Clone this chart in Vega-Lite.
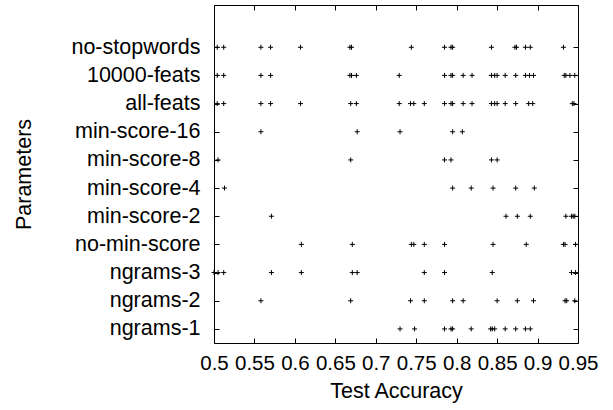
{
  "$schema": "https://vega.github.io/schema/vega-lite/v6.json",
  "width": 364,
  "height": 338,
  "autosize": {"type": "none"},
  "padding": {"left": 214, "top": 5, "right": 35, "bottom": 67},
  "background": "white",
  "config": {
    "font": "Liberation Sans",
    "view": {"stroke": null},
    "axis": {
      "domainColor": "black",
      "domainWidth": 1,
      "tickColor": "black",
      "tickSize": -5,
      "tickWidth": 1,
      "grid": false,
      "labelFont": "Liberation Sans",
      "labelFontSize": 21.5,
      "labelColor": "black",
      "titleFont": "Liberation Sans",
      "titleFontSize": 21.5,
      "titleFontWeight": "normal",
      "titleColor": "black",
      "labelOverlap": false,
      "labelFlush": false
    }
  },
  "data": {
    "values": [
      {"param": "no-stopwords", "acc": 0.504}, {"param": "no-stopwords", "acc": 0.512},
      {"param": "no-stopwords", "acc": 0.558}, {"param": "no-stopwords", "acc": 0.570},
      {"param": "no-stopwords", "acc": 0.607}, {"param": "no-stopwords", "acc": 0.668},
      {"param": "no-stopwords", "acc": 0.670}, {"param": "no-stopwords", "acc": 0.744},
      {"param": "no-stopwords", "acc": 0.785}, {"param": "no-stopwords", "acc": 0.793},
      {"param": "no-stopwords", "acc": 0.795}, {"param": "no-stopwords", "acc": 0.843},
      {"param": "no-stopwords", "acc": 0.872}, {"param": "no-stopwords", "acc": 0.874},
      {"param": "no-stopwords", "acc": 0.885}, {"param": "no-stopwords", "acc": 0.891},
      {"param": "no-stopwords", "acc": 0.932},

      {"param": "10000-feats", "acc": 0.504}, {"param": "10000-feats", "acc": 0.512},
      {"param": "10000-feats", "acc": 0.558}, {"param": "10000-feats", "acc": 0.570},
      {"param": "10000-feats", "acc": 0.668}, {"param": "10000-feats", "acc": 0.670},
      {"param": "10000-feats", "acc": 0.676}, {"param": "10000-feats", "acc": 0.729},
      {"param": "10000-feats", "acc": 0.785}, {"param": "10000-feats", "acc": 0.793},
      {"param": "10000-feats", "acc": 0.795}, {"param": "10000-feats", "acc": 0.808},
      {"param": "10000-feats", "acc": 0.819}, {"param": "10000-feats", "acc": 0.843},
      {"param": "10000-feats", "acc": 0.847}, {"param": "10000-feats", "acc": 0.850},
      {"param": "10000-feats", "acc": 0.860}, {"param": "10000-feats", "acc": 0.873},
      {"param": "10000-feats", "acc": 0.885}, {"param": "10000-feats", "acc": 0.890},
      {"param": "10000-feats", "acc": 0.895}, {"param": "10000-feats", "acc": 0.933},
      {"param": "10000-feats", "acc": 0.935}, {"param": "10000-feats", "acc": 0.940},
      {"param": "10000-feats", "acc": 0.946},

      {"param": "all-feats", "acc": 0.504}, {"param": "all-feats", "acc": 0.512},
      {"param": "all-feats", "acc": 0.558}, {"param": "all-feats", "acc": 0.570},
      {"param": "all-feats", "acc": 0.607}, {"param": "all-feats", "acc": 0.669},
      {"param": "all-feats", "acc": 0.676}, {"param": "all-feats", "acc": 0.729},
      {"param": "all-feats", "acc": 0.743}, {"param": "all-feats", "acc": 0.747},
      {"param": "all-feats", "acc": 0.760}, {"param": "all-feats", "acc": 0.785},
      {"param": "all-feats", "acc": 0.793}, {"param": "all-feats", "acc": 0.795},
      {"param": "all-feats", "acc": 0.808}, {"param": "all-feats", "acc": 0.819},
      {"param": "all-feats", "acc": 0.843}, {"param": "all-feats", "acc": 0.847},
      {"param": "all-feats", "acc": 0.850}, {"param": "all-feats", "acc": 0.860},
      {"param": "all-feats", "acc": 0.873}, {"param": "all-feats", "acc": 0.889},
      {"param": "all-feats", "acc": 0.894}, {"param": "all-feats", "acc": 0.943},
      {"param": "all-feats", "acc": 0.945},

      {"param": "min-score-16", "acc": 0.558}, {"param": "min-score-16", "acc": 0.677},
      {"param": "min-score-16", "acc": 0.730}, {"param": "min-score-16", "acc": 0.795},
      {"param": "min-score-16", "acc": 0.807},

      {"param": "min-score-8", "acc": 0.505}, {"param": "min-score-8", "acc": 0.669},
      {"param": "min-score-8", "acc": 0.785}, {"param": "min-score-8", "acc": 0.793},
      {"param": "min-score-8", "acc": 0.843}, {"param": "min-score-8", "acc": 0.850},

      {"param": "min-score-4", "acc": 0.513}, {"param": "min-score-4", "acc": 0.795},
      {"param": "min-score-4", "acc": 0.818}, {"param": "min-score-4", "acc": 0.845},
      {"param": "min-score-4", "acc": 0.873}, {"param": "min-score-4", "acc": 0.896},

      {"param": "min-score-2", "acc": 0.571}, {"param": "min-score-2", "acc": 0.861},
      {"param": "min-score-2", "acc": 0.875}, {"param": "min-score-2", "acc": 0.891},
      {"param": "min-score-2", "acc": 0.935}, {"param": "min-score-2", "acc": 0.942},
      {"param": "min-score-2", "acc": 0.944}, {"param": "min-score-2", "acc": 0.946},

      {"param": "no-min-score", "acc": 0.608}, {"param": "no-min-score", "acc": 0.671},
      {"param": "no-min-score", "acc": 0.744}, {"param": "no-min-score", "acc": 0.747},
      {"param": "no-min-score", "acc": 0.760}, {"param": "no-min-score", "acc": 0.785},
      {"param": "no-min-score", "acc": 0.845}, {"param": "no-min-score", "acc": 0.886},
      {"param": "no-min-score", "acc": 0.932}, {"param": "no-min-score", "acc": 0.934},
      {"param": "no-min-score", "acc": 0.947},

      {"param": "ngrams-3", "acc": 0.500}, {"param": "ngrams-3", "acc": 0.505},
      {"param": "ngrams-3", "acc": 0.512}, {"param": "ngrams-3", "acc": 0.571},
      {"param": "ngrams-3", "acc": 0.608}, {"param": "ngrams-3", "acc": 0.671},
      {"param": "ngrams-3", "acc": 0.677}, {"param": "ngrams-3", "acc": 0.760},
      {"param": "ngrams-3", "acc": 0.785}, {"param": "ngrams-3", "acc": 0.844},
      {"param": "ngrams-3", "acc": 0.942}, {"param": "ngrams-3", "acc": 0.947},

      {"param": "ngrams-2", "acc": 0.558}, {"param": "ngrams-2", "acc": 0.669},
      {"param": "ngrams-2", "acc": 0.743}, {"param": "ngrams-2", "acc": 0.760},
      {"param": "ngrams-2", "acc": 0.795}, {"param": "ngrams-2", "acc": 0.808},
      {"param": "ngrams-2", "acc": 0.850}, {"param": "ngrams-2", "acc": 0.875},
      {"param": "ngrams-2", "acc": 0.895}, {"param": "ngrams-2", "acc": 0.934},
      {"param": "ngrams-2", "acc": 0.936}, {"param": "ngrams-2", "acc": 0.946},

      {"param": "ngrams-1", "acc": 0.730}, {"param": "ngrams-1", "acc": 0.748},
      {"param": "ngrams-1", "acc": 0.785}, {"param": "ngrams-1", "acc": 0.793},
      {"param": "ngrams-1", "acc": 0.795}, {"param": "ngrams-1", "acc": 0.818},
      {"param": "ngrams-1", "acc": 0.842}, {"param": "ngrams-1", "acc": 0.844},
      {"param": "ngrams-1", "acc": 0.847}, {"param": "ngrams-1", "acc": 0.860},
      {"param": "ngrams-1", "acc": 0.873}, {"param": "ngrams-1", "acc": 0.885},
      {"param": "ngrams-1", "acc": 0.891}
    ]
  },
  "layer": [
    {
      "mark": {"type": "point", "shape": "M-1,0L1,0M0,-1L0,1", "size": 25, "filled": false, "stroke": "black", "strokeWidth": 1, "opacity": 1},
      "encoding": {
        "x": {
          "field": "acc", "type": "quantitative", "title": "Test Accuracy",
          "scale": {"domain": [0.5, 0.95], "nice": false, "zero": false},
          "axis": {"orient": "bottom", "values": [0.5, 0.55, 0.6, 0.65, 0.7, 0.75, 0.8, 0.85, 0.9, 0.95], "format": "~g", "labelFontSize": 20.5, "labelPadding": 15, "titlePadding": 7}
        },
        "y": {
          "field": "param", "type": "nominal", "title": "Parameters",
          "scale": {"type": "point", "padding": 0.5, "domain": ["", "no-stopwords", "10000-feats", "all-feats", "min-score-16", "min-score-8", "min-score-4", "min-score-2", "no-min-score", "ngrams-3", "ngrams-2", "ngrams-1"]},
          "axis": {"orient": "left", "values": ["no-stopwords", "10000-feats", "all-feats", "min-score-16", "min-score-8", "min-score-4", "min-score-2", "no-min-score", "ngrams-3", "ngrams-2", "ngrams-1"], "labelPadding": 19, "titlePadding": 35}
        }
      }
    },
    {
      "mark": {"type": "point", "opacity": 0},
      "encoding": {
        "x": {
          "field": "acc", "type": "quantitative",
          "axis": {"orient": "top", "values": [0.5, 0.55, 0.6, 0.65, 0.7, 0.75, 0.8, 0.85, 0.9, 0.95], "labels": false, "title": null}
        },
        "y": {
          "field": "param", "type": "nominal",
          "axis": {"orient": "right", "values": ["no-stopwords", "10000-feats", "all-feats", "min-score-16", "min-score-8", "min-score-4", "min-score-2", "no-min-score", "ngrams-3", "ngrams-2", "ngrams-1"], "labels": false, "title": null}
        }
      }
    }
  ],
  "resolve": {"axis": {"x": "independent", "y": "independent"}}
}
